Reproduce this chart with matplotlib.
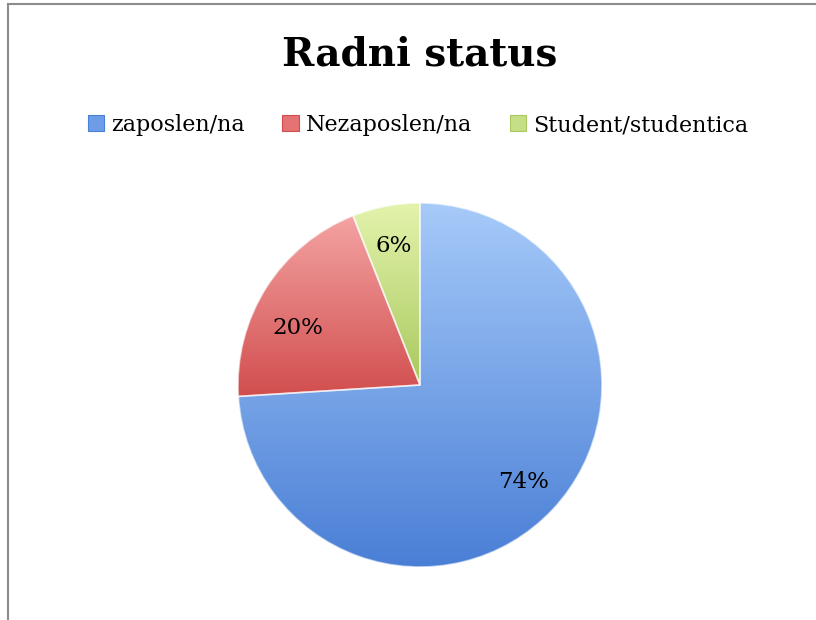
import numpy as np
import matplotlib.pyplot as plt
from matplotlib.colors import LinearSegmentedColormap
from matplotlib.patches import Rectangle, PathPatch
from matplotlib.lines import Line2D

title = "Radni status"
labels = ["zaposlen/na", "Nezaposlen/na", "Student/studentica"]
shares = [74, 20, 6]

# gradient per slice: top colour -> bottom colour
grad_top = ["#A6CAF9", "#F4A3A3", "#E3F3AC"]
grad_bot = ["#4A7FD6", "#D24E4E", "#A9C95E"]
mid_col = ["#6F9CE6", "#E57373", "#C6DF86"]

plt.rcParams['font.family'] = ['DejaVu Serif']

fig = plt.figure(figsize=(8.16, 6.2), dpi=100)
fig.patch.set_facecolor("white")

# frame lines (only left and top are visible in the crop)
fig.add_artist(Line2D([8/816, 8/816], [0, 1 - 4/620], transform=fig.transFigure,
                      color="#8C8C8C", lw=1.5))
fig.add_artist(Line2D([8/816, 1], [1 - 4/620, 1 - 4/620], transform=fig.transFigure,
                      color="#8C8C8C", lw=1.5))

ax = fig.add_axes([238/816, 53/620, 364/816, 364/620])
wedges, texts, autotexts = ax.pie(
    shares, startangle=90, counterclock=False, radius=1.0,
    colors=mid_col, autopct=lambda p: f"{p:.0f}%", pctdistance=0.78,
    wedgeprops=dict(edgecolor="#FFFFFF", linewidth=0.8),
    textprops=dict(fontsize=16.5, color="black"))
ax.set_aspect("equal")
ax.axis("off")

# vertical gradient fill clipped to each wedge
for w, t, b in zip(wedges, grad_top, grad_bot):
    cmap = LinearSegmentedColormap.from_list("g", [b, t])
    bb = w.get_path().get_extents(w.get_patch_transform())
    grad = np.linspace(0, 1, 256).reshape(-1, 1)
    im = ax.imshow(grad, cmap=cmap, origin="lower", aspect="auto",
                   extent=[bb.x0, bb.x1, bb.y0, bb.y1], zorder=w.get_zorder() + 0.1)
    im.set_clip_path(w)
    edge = PathPatch(w.get_path(), transform=w.get_transform(), fill=False,
                     edgecolor=(1, 1, 1, 0.6), lw=1.2, zorder=w.get_zorder() + 0.2)
    ax.add_patch(edge)
for at in autotexts:
    at.set_zorder(10)

# Excel's best-fit nudges the red label a bit lower
ang = np.deg2rad(155)
autotexts[1].set_position((0.74 * np.cos(ang), 0.74 * np.sin(ang)))

ax.set_xlim(-1, 1)
ax.set_ylim(-1, 1)

fig.text(420/816, 1 - 55/620, title, ha="center", va="center",
         fontsize=28, fontweight="bold")

handles = [Rectangle((0, 0), 1, 1, facecolor=c, edgecolor=b, lw=0.8)
           for c, b in zip(mid_col, grad_bot)]
fig.legend(handles, labels, loc="center", bbox_to_anchor=(418/816, 1 - 125/620),
           ncol=3, frameon=False, fontsize=16, handlelength=0.75, handleheight=0.75,
           handletextpad=0.3, columnspacing=1.7)

fig.savefig("out.png", dpi=100, facecolor="white")
